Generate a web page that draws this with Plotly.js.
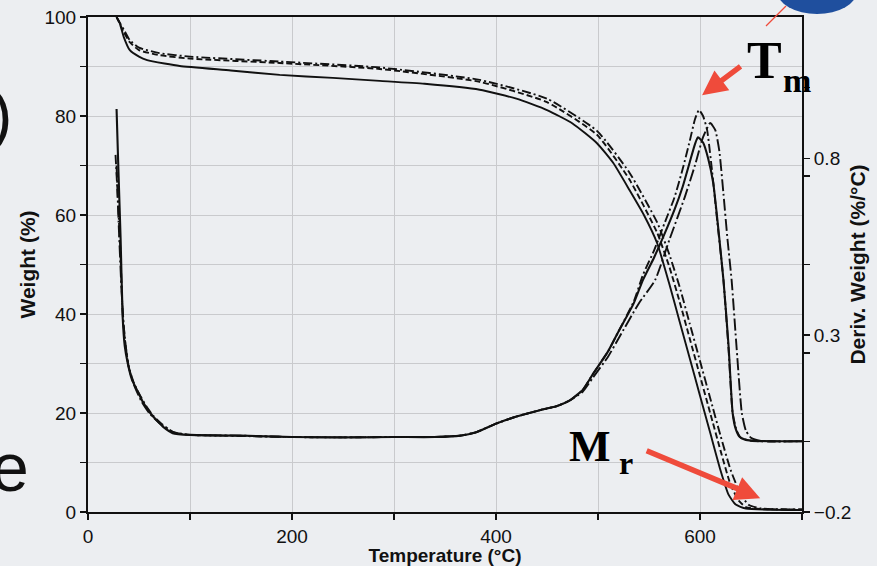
<!DOCTYPE html>
<html>
<head>
<meta charset="utf-8">
<script src="https://cdn.plot.ly/plotly-3.0.1.min.js"></script>
<style>html,body{margin:0;padding:0;background:#eceef1;}#chart{width:877px;height:566px;}</style>
</head>
<body>
<div id="chart"></div>
<script>
// ---- Weight curves (left axis, %) ----
const tWeightA = [28,31,35,41,50,58,75,90,140,188,240,286,330,384,420,450,475,499,515,531,545,558,570,580,590,600,610,620,628,635,645,700];
const weightA  = [100,98.8,96,93.3,92,91.3,90.6,90.1,89.2,88.3,87.7,87.1,86.5,85.3,83.5,81.2,78.5,74.5,70.5,65,60,54.3,46,38.5,31,23.5,16,8.5,3.5,1.5,0.7,0.4];
const tWeightB = [28,35,41,50,70,100,188,286,384,450,499,531,558,570,580,590,600,610,620,630,638,645,660,700];
const weightB  = [100,97,94.9,93.3,92.3,91.6,90.7,89.5,86.9,82.8,76.2,67.1,56.4,49.5,42.5,35,27.5,20,12.5,5.5,2.3,1.0,0.6,0.5];
const tWeightC = [28,35,41,50,70,100,188,286,384,450,499,531,558,570,580,590,600,610,620,630,640,648,660,700];
const weightC  = [100,97.5,95.3,93.8,92.7,92.0,91.0,89.8,87.3,83.5,77,68.5,58.5,52,45.5,38,30.5,23,15.5,8.5,3.5,1.4,0.7,0.5];

// ---- Derivative curves (right axis, %/°C) ----
const tDerivA = [28,30,32,34,36,39,43,48,54,61,68,74,83,100,150,200,250,300,340,365,380,400,420,443,460,472,485,495,510,520,535,544,555,565,575,583,590,595,598,603,608,613,618,623,628,632,635,639,645,655,700];
const derivA  = [0.94,0.75,0.57,0.35,0.27,0.22,0.175,0.145,0.11,0.08,0.057,0.04,0.023,0.018,0.016,0.012,0.011,0.012,0.012,0.016,0.025,0.05,0.07,0.088,0.1,0.115,0.145,0.19,0.255,0.31,0.39,0.456,0.52,0.585,0.655,0.72,0.79,0.84,0.86,0.845,0.8,0.73,0.6,0.456,0.27,0.08,0.035,0.012,0.004,0.001,0.0];
const tDerivB = [27,29,32,34,37,40,45,50,57,64,72,84,100,150,200,250,300,340,365,380,400,420,443,460,472,485,495,510,520,535,544,555,565,575,583,590,595,599,603,607,612,617,623,628,632,636,640,650,700];
const derivB  = [0.81,0.7,0.52,0.36,0.27,0.21,0.165,0.135,0.1,0.072,0.05,0.025,0.018,0.015,0.012,0.011,0.012,0.012,0.016,0.025,0.05,0.07,0.088,0.1,0.115,0.145,0.19,0.255,0.31,0.395,0.47,0.54,0.615,0.69,0.77,0.85,0.91,0.937,0.92,0.88,0.76,0.62,0.456,0.26,0.08,0.03,0.01,0.001,0.0];
const tDerivC = [28,30,33,36,40,45,52,60,70,84,100,150,200,250,300,340,365,380,400,420,443,460,472,485,495,510,520,540,556,570,585,595,603,610,615,619,623,627,631,636,641,645,650,660,700];
const derivC  = [0.78,0.62,0.42,0.29,0.21,0.16,0.115,0.08,0.052,0.026,0.018,0.016,0.012,0.011,0.012,0.012,0.016,0.025,0.05,0.07,0.088,0.1,0.115,0.14,0.18,0.24,0.29,0.39,0.456,0.57,0.69,0.78,0.86,0.9,0.88,0.82,0.7,0.57,0.456,0.26,0.08,0.03,0.01,0.001,0.0];

const ink = '#111111';
const dashDot = '9px,3px,2px,3px';
const longDashDot = '12px,3px,2px,3px';

function lineTrace(x, y, axis, width, dash) {
  return {type: 'scatter', mode: 'lines', x: x, y: y, yaxis: axis, showlegend: false, hoverinfo: 'skip',
          line: {color: ink, width: width, dash: dash, shape: 'spline', smoothing: 0.5}};
}
const traces = [
  lineTrace(tWeightA, weightA, 'y', 1.9, 'solid'),
  lineTrace(tWeightB, weightB, 'y', 1.9, '6px,3px'),
  lineTrace(tWeightC, weightC, 'y', 1.9, dashDot),
  lineTrace(tDerivA, derivA, 'y2', 2.1, 'solid'),
  lineTrace(tDerivB, derivB, 'y2', 1.9, dashDot),
  lineTrace(tDerivC, derivC, 'y2', 1.9, longDashDot)
];

const grid = '#c9cacd';
const tickFont = {family: 'Liberation Sans, Arial, sans-serif', size: 19, color: ink};
const xTitleFont = {family: 'Liberation Sans, Arial, sans-serif', size: 19, color: ink, weight: 'bold'};
const yTitleFont = {family: 'Liberation Sans, Arial, sans-serif', size: 21, color: ink, weight: 'bold'};
const red = '#ef4b3b';
const serif = 'Liberation Serif, Times New Roman, serif';
const px = v => (v - 88) / 714;   // helper for paper-anchored decorations
const py = v => (512 - v) / 495;

const layout = {
  width: 877, height: 566,
  margin: {l: 88, r: 75, t: 17, b: 54},
  paper_bgcolor: '#eceef1',
  plot_bgcolor: '#eceef1',
  xaxis: {
    range: [0, 700], tick0: 0, dtick: 200, ticks: 'outside', ticklen: 6, tickwidth: 1.5, tickcolor: ink,
    showgrid: true, gridcolor: grid, gridwidth: 1, zeroline: false,
    minor: {dtick: 100, showgrid: true, gridcolor: grid, gridwidth: 1, ticks: 'outside', ticklen: 6, tickcolor: ink},
    showline: true, linecolor: ink, linewidth: 2, mirror: true,
    tickfont: tickFont,
    title: {text: 'Temperature (°C)', font: xTitleFont, standoff: 0}
  },
  yaxis: {
    range: [0, 100], tick0: 0, dtick: 20, ticks: 'outside', ticklen: 6, tickwidth: 1.5, tickcolor: ink,
    showgrid: true, gridcolor: grid, gridwidth: 1, zeroline: false,
    minor: {dtick: 10, showgrid: true, gridcolor: grid, gridwidth: 1, ticks: 'outside', ticklen: 6, tickcolor: ink},
    showline: true, linecolor: ink, linewidth: 2,
    tickfont: tickFont,
    title: {text: 'Weight (%)', font: yTitleFont, standoff: 3}
  },
  yaxis2: {
    overlaying: 'y', side: 'right',
    range: [-0.2, 1.2], tick0: -0.2, dtick: 0.5, ticks: 'outside', ticklen: 6, tickwidth: 1.5, tickcolor: ink,
    minor: {dtick: 0.25, ticks: 'outside', ticklen: 6, tickcolor: ink, showgrid: false},
    showgrid: false, zeroline: false,
    showline: true, linecolor: ink, linewidth: 2,
    tickfont: tickFont,
    title: {text: 'Deriv. Weight (%/°C)', font: yTitleFont, standoff: 0}
  },
  shapes: [
    {type: 'circle', xref: 'paper', yref: 'paper', x0: px(777), x1: px(857), y0: py(14), y1: py(-32),
     fillcolor: '#1f4f9e', line: {width: 0}, layer: 'above'},
    {type: 'line', xref: 'paper', yref: 'paper', x0: px(766), x1: px(786), y0: py(26), y1: py(6),
     line: {color: red, width: 1.2}, layer: 'above'}
  ],
  annotations: [
    {xref: 'paper', yref: 'paper', x: px(745), y: py(60), xanchor: 'left', yanchor: 'middle', showarrow: false,
     text: '<b>T</b>', font: {family: serif, size: 52, color: '#000'}},
    {xref: 'paper', yref: 'paper', x: px(781), y: py(80), xanchor: 'left', yanchor: 'middle', showarrow: false,
     text: '<b>m</b>', font: {family: serif, size: 34, color: '#000'}},
    {x: 602, y: 84.2, xref: 'x', yref: 'y', text: '', showarrow: true, ax: 40, ay: -30, axref: 'pixel', ayref: 'pixel',
     arrowcolor: red, arrowwidth: 5.5, arrowhead: 2, arrowsize: 0.9, standoff: 0},
    {xref: 'paper', yref: 'paper', x: px(567), y: py(446), xanchor: 'left', yanchor: 'middle', showarrow: false,
     text: '<b>M</b>', font: {family: serif, size: 44, color: '#000'}},
    {xref: 'paper', yref: 'paper', x: px(617), y: py(463), xanchor: 'left', yanchor: 'middle', showarrow: false,
     text: '<b>r</b>', font: {family: serif, size: 32, color: '#000'}},
    {x: 659, y: 2.8, xref: 'x', yref: 'y', text: '', showarrow: true, ax: -115, ay: -48, axref: 'pixel', ayref: 'pixel',
     arrowcolor: red, arrowwidth: 5.5, arrowhead: 2, arrowsize: 0.9, standoff: 0},
    {xref: 'paper', yref: 'paper', x: px(1), y: py(115), xanchor: 'center', yanchor: 'middle', showarrow: false,
     text: ')', font: {family: 'Liberation Sans, Arial, sans-serif', size: 64, color: '#111'}},
    {xref: 'paper', yref: 'paper', x: px(10), y: py(467), xanchor: 'center', yanchor: 'middle', showarrow: false,
     text: 'e', font: {family: 'Liberation Sans, Arial, sans-serif', size: 68, color: '#111'}}
  ]
};

Plotly.newPlot('chart', traces, layout, {displayModeBar: false, staticPlot: true});
</script>
</body>
</html>
